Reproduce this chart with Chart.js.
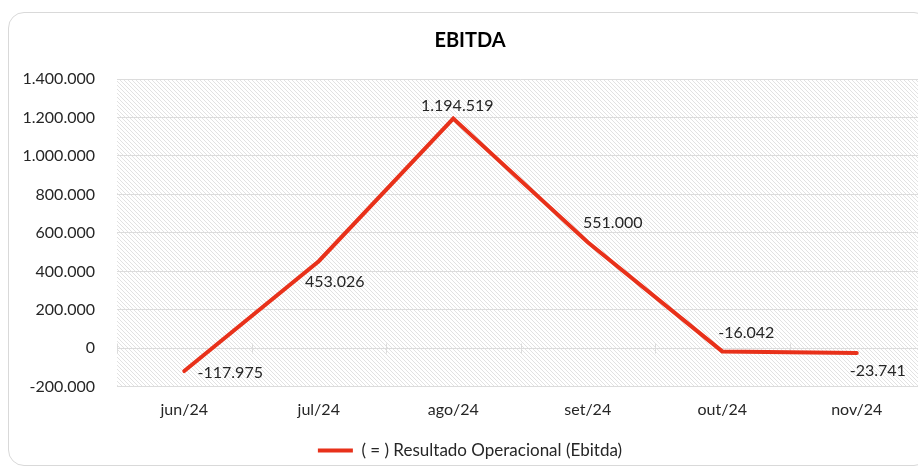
<!DOCTYPE html>
<html>
<head>
<meta charset="utf-8">
<script src="https://cdn.jsdelivr.net/npm/chart.js@4.4.1/dist/chart.umd.min.js"></script>
<style>
    html, body { margin: 0; padding: 0; background: #fff; overflow: hidden; }
    #wrap { position: relative; width: 940px; height: 469px; }
    #frame {
        position: absolute; left: 8px; top: 12px; width: 922px; height: 454px;
        border: 1.5px solid #d9d9d9; border-radius: 16px; box-sizing: border-box;
    }
    canvas { position: absolute; left: 0; top: 0; }
</style>
</head>
<body>
<div id="wrap">
    <div id="frame"></div>
    <canvas id="ebitdaChart" width="940" height="469"></canvas>
</div>
<script>
const months = ['jun/24', 'jul/24', 'ago/24', 'set/24', 'out/24', 'nov/24'];
const ebitda = [-117975, 453026, 1194519, 551000, -16042, -23741];
const seriesName = '( = ) Resultado Operacional (Ebitda)';
const yMin = -200000;
const yMax = 1400000;
const yStep = 200000;

// where each data label sits relative to its point (px)
const labelOffsets = [[46, 2], [16, 21], [4, -13], [25, -19], [24, -19], [21, 18]];

const textColor = '#262626';
const gridColor = '#dcdcdc';
const lineColor = '#e8311a';

function fmt(v) {
    const s = String(Math.abs(v)).replace(/\B(?=(\d{3})+(?!\d))/g, '.');
    return (v < 0 ? '-' : '') + s;
}

function makeHatch(ctx) {
    const c = document.createElement('canvas');
    c.width = 4; c.height = 4;
    const g = c.getContext('2d');
    g.fillStyle = '#ffffff';
    g.fillRect(0, 0, 4, 4);
    g.fillStyle = '#e2e2e2';
    for (let i = 0; i < 4; i++) g.fillRect(i, i, 1, 1);
    return ctx.createPattern(c, 'repeat');
}

// hatched plot area background
const hatchBg = {
    id: 'hatchBg',
    beforeDraw(chart) {
        const { ctx, chartArea: a } = chart;
        ctx.save();
        ctx.fillStyle = makeHatch(ctx);
        ctx.fillRect(a.left, a.top, a.right - a.left, a.bottom - a.top);
        ctx.restore();
    }
};

// small tick marks on the zero line, like Excel's horizontal axis
const zeroTicks = {
    id: 'zeroTicks',
    beforeDatasetsDraw(chart) {
        const { ctx, chartArea: a, scales } = chart;
        const y0 = Math.round(scales.y.getPixelForValue(0)) + 0.5;
        const n = months.length;
        const band = (a.right - a.left) / n;
        ctx.save();
        ctx.strokeStyle = gridColor;
        ctx.lineWidth = 1;
        ctx.beginPath();
        ctx.moveTo(a.left, y0);
        ctx.lineTo(a.right, y0);
        for (let i = 0; i <= n; i++) {
            const x = Math.round(a.left + i * band) + 0.5;
            ctx.moveTo(x, y0 - 5);
            ctx.lineTo(x, y0 + 5);
        }
        ctx.stroke();
        ctx.restore();
    }
};

const dataLabels = {
    id: 'dataLabels',
    afterDatasetsDraw(chart) {
        const { ctx } = chart;
        const meta = chart.getDatasetMeta(0);
        ctx.save();
        ctx.font = '16px Lato';
        ctx.fillStyle = textColor;
        ctx.textAlign = 'center';
        ctx.textBaseline = 'middle';
        meta.data.forEach((pt, i) => {
            const off = labelOffsets[i];
            ctx.fillText(fmt(ebitda[i]), pt.x + off[0], pt.y + off[1]);
        });
        ctx.restore();
    }
};

const ctx = document.getElementById('ebitdaChart').getContext('2d');
new Chart(ctx, {
    type: 'line',
    data: {
        labels: months,
        datasets: [{
            label: seriesName,
            data: ebitda,
            borderColor: lineColor,
            backgroundColor: lineColor,
            borderWidth: 4,
            borderCapStyle: 'round',
            pointRadius: 0,
            tension: 0,
            fill: false
        }]
    },
    options: {
        responsive: false,
        animation: false,
        layout: { padding: { left: 16, right: 16, top: 0, bottom: 0 } },
        plugins: {
            title: {
                display: true,
                text: 'EBITDA',
                color: '#000',
                font: { family: 'Lato', size: 20, weight: 'bold' },
                padding: { top: 29, bottom: 26 }
            },
            legend: {
                position: 'bottom',
                labels: {
                    color: textColor,
                    font: { family: 'Lato', size: 17 },
                    boxWidth: 35,
                    boxHeight: 4,
                    generateLabels(chart) {
                        return Chart.defaults.plugins.legend.labels.generateLabels(chart)
                            .map(l => Object.assign(l, { lineWidth: 0, fillStyle: lineColor }));
                    }
                }
            },
            tooltip: { enabled: false }
        },
        scales: {
            x: {
                offset: true,
                grid: { display: false, drawTicks: false },
                border: { display: false },
                ticks: { color: textColor, font: { family: 'Lato', size: 16 }, padding: 13 }
            },
            y: {
                min: yMin,
                max: yMax,
                afterFit(scale) { scale.width = 101; },
                grid: { color: gridColor, drawTicks: false },
                border: { display: false },
                ticks: {
                    stepSize: yStep,
                    color: textColor,
                    font: { family: 'Lato', size: 16 },
                    padding: 22,
                    callback: v => fmt(v)
                }
            }
        }
    },
    plugins: [hatchBg, zeroTicks, dataLabels]
});
</script>
</body>
</html>
